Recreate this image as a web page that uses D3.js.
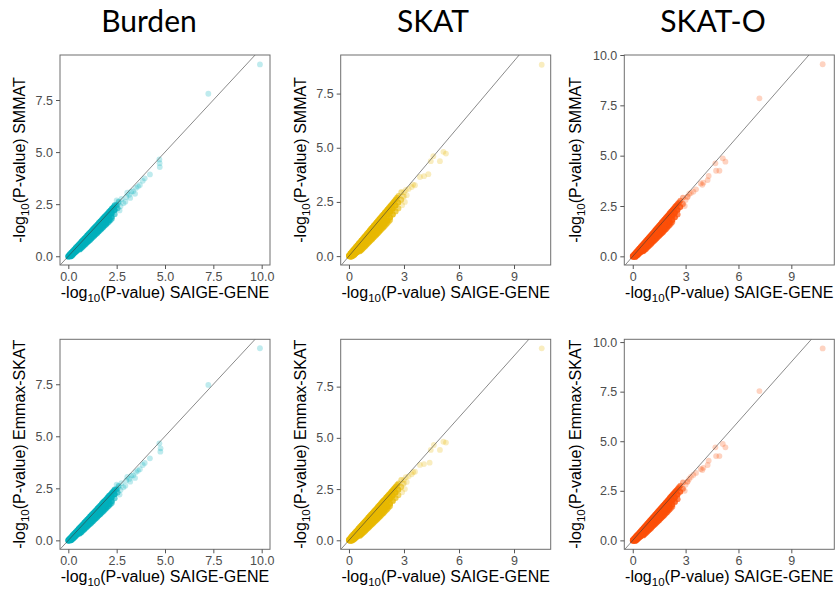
<!DOCTYPE html>
<html>
<head>
<meta charset="utf-8">
<script src="https://cdn.jsdelivr.net/npm/d3@7"></script>
<style>
  html, body { margin: 0; padding: 0; background: #fff; }
  svg { display: block; }
</style>
</head>
<body>
<svg id="chart" width="836" height="590"></svg>
<script>
// Gene-based association tests: SAIGE-GENE -log10(P) against SMMAT and Emmax-SKAT
const tests = ["Burden", "SKAT", "SKAT-O"];
const methods = ["SMMAT", "Emmax-SKAT"];
const testColors = ["#00AFBB", "#E7B800", "#FC4E07"];

// axis ticks per test column
const xTicks = [[0, 2.5, 5, 7.5, 10], [0, 3, 6, 9], [0, 3, 6, 9]];
const xTickLabels = [["0.0", "2.5", "5.0", "7.5", "10.0"], ["0", "3", "6", "9"], ["0", "3", "6", "9"]];
const yTicks = [[0, 2.5, 5, 7.5], [0, 2.5, 5, 7.5], [0, 2.5, 5, 7.5, 10]];
const yTickLabels = [["0.0", "2.5", "5.0", "7.5"], ["0.0", "2.5", "5.0", "7.5"], ["0.0", "2.5", "5.0", "7.5", "10.0"]];

// axis ranges (data range plus padding)
const xDomains = [[-0.43, 10.43], [-0.45, 11.0], [-0.48, 11.44]];
const yDomains = [
  [[-0.42, 9.66], [-0.41, 9.28], [-0.43, 10.0]],
  [[-0.43, 9.66], [-0.44, 9.81], [-0.45, 10.14]]
];

// bulk of genes, binned: [SAIGE-GENE, comparison method, number of genes]
const burdenBand = [
  // upper edge
  [0,0.02,20],[0.075,0.095,14],[0.15,0.17,14],[0.225,0.245,14],[0.3,0.32,14],[0.375,0.395,14],[0.45,0.47,14],[0.525,0.545,14],[0.6,0.62,14],[0.675,0.695,14],[0.75,0.77,14],[0.825,0.845,14],[0.9,0.92,14],[0.975,0.995,14],[1.05,1.07,14],[1.125,1.145,14],[1.2,1.22,14],[1.275,1.295,13],[1.35,1.37,13],[1.425,1.445,12],[1.5,1.52,12],[1.575,1.595,12],[1.65,1.67,12],[1.725,1.75,12],[1.8,1.83,12],[1.875,1.9,11],[1.95,1.97,11],[2.025,2.05,10],[2.1,2.13,10],[2.175,2.2,9],[2.25,2.28,8],[2.325,2.36,6],[2.4,2.45,5],
  // core
  [0,-0.02,40],[0.15,0.08,30],[0.3,0.22,30],[0.45,0.36,30],[0.6,0.5,28],[0.75,0.64,28],[0.9,0.78,26],[1.05,0.93,26],[1.2,1.07,24],[1.35,1.21,24],[1.5,1.35,22],[1.65,1.5,20],[1.8,1.64,20],[1.95,1.78,18],[2.1,1.92,16],[2.25,2.07,12],[2.4,2.22,9],
  [0.075,-0.01,12],[0.15,0.0,12],[0.225,0.065,12],[0.3,0.13,12],[0.375,0.2,12],[0.45,0.27,12],[0.525,0.335,12],[0.6,0.4,12],[0.75,0.54,12],[0.9,0.67,12],[1.05,0.8,12],[1.2,0.94,12],[1.35,1.07,12],[1.5,1.2,11],[1.65,1.34,11],[1.8,1.47,10],[1.95,1.6,9],[2.1,1.74,7],[2.25,1.88,5],[2.4,2.02,3],
  // lower edge
  [0.6,0.33,6],[0.675,0.395,6],[0.75,0.46,6],[0.825,0.525,6],[0.9,0.59,6],[0.975,0.655,6],[1.05,0.72,6],[1.125,0.785,6],[1.2,0.85,6],[1.275,0.92,6],[1.35,0.99,6],[1.425,1.055,6],[1.5,1.12,6],[1.575,1.19,6],[1.65,1.26,6],[1.725,1.325,6],[1.8,1.39,5],[1.875,1.46,5],[1.95,1.53,5],[2.025,1.595,4],[2.1,1.66,4],[2.175,1.73,3],[2.25,1.8,3],
  [2.5,2.45,4],[2.55,2.3,3],[2.6,2.62,2],[2.65,2.2,1],[2.5,2.68,1]
];
const skatBand = [
  [0,0.03,20],[0.075,0.12,14],[0.15,0.2,14],[0.225,0.275,14],[0.3,0.35,14],[0.375,0.425,14],[0.45,0.5,14],[0.525,0.575,14],[0.6,0.65,14],[0.675,0.725,14],[0.75,0.8,14],[0.825,0.875,14],[0.9,0.95,14],[0.975,1.025,14],[1.05,1.1,14],[1.125,1.175,14],[1.2,1.25,14],[1.275,1.325,13],[1.35,1.4,13],[1.425,1.475,12],[1.5,1.55,12],[1.575,1.625,12],[1.65,1.7,12],[1.725,1.78,11],[1.8,1.86,11],[1.875,1.93,10],[1.95,2.0,10],[2.025,2.08,10],[2.1,2.16,10],[2.175,2.23,9],[2.25,2.3,9],[2.325,2.38,8],[2.4,2.46,8],[2.475,2.54,6],[2.55,2.62,5],[2.625,2.7,4],[2.7,2.78,3],[2.85,2.95,2],
  [0,0.0,40],[0.15,0.06,30],[0.3,0.19,30],[0.45,0.33,30],[0.6,0.47,28],[0.75,0.61,28],[0.9,0.76,26],[1.05,0.9,26],[1.2,1.04,24],[1.35,1.18,24],[1.5,1.33,22],[1.65,1.47,20],[1.8,1.61,20],[1.95,1.75,18],[2.1,1.9,16],[2.25,2.04,14],[2.4,2.18,12],[2.55,2.33,9],[2.7,2.47,6],[2.85,2.6,3],
  [0.075,-0.03,12],[0.15,-0.02,12],[0.225,0.02,12],[0.3,0.06,12],[0.375,0.12,12],[0.45,0.18,12],[0.525,0.245,12],[0.6,0.31,12],[0.75,0.44,12],[0.9,0.57,12],[1.05,0.7,12],[1.2,0.83,12],[1.35,0.97,12],[1.5,1.1,12],[1.65,1.24,11],[1.8,1.37,11],[1.95,1.5,10],[2.1,1.64,9],[2.25,1.78,7],[2.4,1.92,6],[2.55,2.06,4],[2.7,2.2,3],
  [0.6,0.22,6],[0.675,0.28,6],[0.75,0.34,6],[0.825,0.405,6],[0.9,0.47,6],[0.975,0.535,6],[1.05,0.6,6],[1.125,0.665,6],[1.2,0.73,6],[1.275,0.795,6],[1.35,0.86,6],[1.425,0.925,6],[1.5,0.99,6],[1.575,1.055,6],[1.65,1.12,6],[1.725,1.19,6],[1.8,1.26,5],[1.875,1.325,5],[1.95,1.39,5],[2.025,1.46,4],[2.1,1.53,4],[2.175,1.6,3],[2.25,1.67,3],
  [2.95,2.75,1],[3.0,2.95,1],[3.05,2.5,1],[2.9,2.35,1]
];
const skatoBand = [
  [0,0.02,20],[0.075,0.095,14],[0.15,0.17,14],[0.225,0.245,14],[0.3,0.32,14],[0.375,0.395,14],[0.45,0.47,14],[0.525,0.545,14],[0.6,0.62,14],[0.675,0.695,14],[0.75,0.77,14],[0.825,0.845,14],[0.9,0.92,14],[0.975,0.995,14],[1.05,1.07,14],[1.125,1.145,14],[1.2,1.22,14],[1.275,1.295,13],[1.35,1.37,13],[1.425,1.445,12],[1.5,1.52,12],[1.575,1.6,12],[1.65,1.68,12],[1.725,1.755,11],[1.8,1.83,11],[1.875,1.905,10],[1.95,1.98,10],[2.025,2.06,10],[2.1,2.14,10],[2.175,2.215,9],[2.25,2.29,9],[2.325,2.37,8],[2.4,2.45,8],[2.475,2.525,6],[2.55,2.6,5],[2.625,2.68,4],[2.7,2.76,3],[2.85,2.92,2],
  [0,-0.02,40],[0.15,0.07,30],[0.3,0.2,30],[0.45,0.34,30],[0.6,0.48,28],[0.75,0.62,28],[0.9,0.76,26],[1.05,0.9,26],[1.2,1.04,24],[1.35,1.18,24],[1.5,1.32,22],[1.65,1.46,20],[1.8,1.6,20],[1.95,1.74,18],[2.1,1.88,16],[2.25,2.02,14],[2.4,2.16,12],[2.55,2.31,9],[2.7,2.45,6],[2.85,2.6,3],
  [0.075,-0.02,12],[0.15,-0.03,12],[0.225,0.025,12],[0.3,0.08,12],[0.375,0.14,12],[0.45,0.2,12],[0.525,0.265,12],[0.6,0.33,12],[0.75,0.46,12],[0.9,0.59,12],[1.05,0.72,12],[1.2,0.85,12],[1.35,0.98,12],[1.5,1.12,12],[1.65,1.25,11],[1.8,1.38,11],[1.95,1.52,10],[2.1,1.66,9],[2.25,1.8,7],[2.4,1.94,6],[2.55,2.08,4],
  [0.6,0.25,6],[0.675,0.31,6],[0.75,0.37,6],[0.825,0.435,6],[0.9,0.5,6],[0.975,0.565,6],[1.05,0.63,6],[1.125,0.695,6],[1.2,0.76,6],[1.275,0.825,6],[1.35,0.89,6],[1.425,0.955,6],[1.5,1.02,6],[1.575,1.085,6],[1.65,1.15,6],[1.725,1.215,6],[1.8,1.28,5],[1.875,1.35,5],[1.95,1.42,5],[2.025,1.49,4],[2.1,1.56,4],[2.175,1.63,3],[2.25,1.7,3],
  [3.0,2.8,1],[3.1,2.95,1],[3.2,3.1,1],[2.95,2.5,1]
];

// individual top genes: [SAIGE-GENE, comparison method]
const burdenSmmat = [[2.6,2.55],[2.7,2.4],[2.75,2.75],[2.85,2.55],[2.95,2.62],[3.0,2.85],[3.05,3.05],[3.15,2.95],[3.2,2.8],[3.25,3.1],[3.35,3.12],[3.45,3.0],[3.5,3.28],[3.6,3.35],[3.7,3.42],[3.85,3.62],[3.95,3.74],[4.22,3.93],[4.71,4.65],[4.72,4.47],[4.73,4.28],[7.24,7.8],[9.91,9.21]];
const burdenEmmax = [[2.6,2.55],[2.7,2.42],[2.75,2.75],[2.85,2.55],[2.95,2.62],[3.0,2.88],[3.05,3.05],[3.15,2.95],[3.2,2.82],[3.25,3.1],[3.35,3.12],[3.45,3.0],[3.5,3.28],[3.6,3.35],[3.7,3.42],[3.85,3.62],[3.95,3.72],[4.22,3.94],[4.71,4.66],[4.77,4.42],[4.76,4.26],[7.24,7.47],[9.91,9.23]];
const skatSmmat = [[3.0,2.75],[3.15,2.81],[3.1,3.05],[3.25,3.1],[3.42,3.19],[3.5,3.3],[3.6,3.27],[3.87,3.65],[4.09,3.69],[4.33,3.78],[4.46,4.38],[4.6,4.61],[4.96,4.38],[5.15,4.81],[5.29,4.73],[10.51,8.83]];
const skatEmmax = [[3.0,2.78],[3.15,2.85],[3.1,3.08],[3.25,3.12],[3.42,3.22],[3.5,3.32],[3.6,3.35],[3.87,3.68],[4.09,3.72],[4.4,3.79],[4.46,4.41],[4.63,4.65],[4.96,4.41],[5.15,4.81],[5.29,4.77],[10.51,9.37]];
const skatoSmmat = [[3.12,2.96],[3.3,3.15],[3.44,3.21],[3.59,3.33],[3.86,3.62],[3.95,3.55],[4.01,3.66],[4.25,3.79],[4.31,3.99],[4.69,4.62],[4.73,4.25],[4.92,4.25],[5.11,4.87],[5.26,4.7],[7.19,7.85],[10.78,9.54]];
const skatoEmmax = [[3.12,2.98],[3.3,3.2],[3.44,3.3],[3.59,3.4],[3.86,3.6],[3.95,3.55],[4.01,3.66],[4.25,3.8],[4.31,4.02],[4.69,4.69],[4.73,4.25],[4.92,4.25],[5.11,4.86],[5.26,4.69],[7.19,7.53],[10.78,9.68]];

const bands = [burdenBand, skatBand, skatoBand];
const topGenes = [[burdenSmmat, skatSmmat, skatoSmmat], [burdenEmmax, skatEmmax, skatoEmmax]];

// layout
const panelLeft = [60, 340.7, 624.3];
const panelTop = [55, 339.3];
const panelSize = 210;
const yTitleGap = [35, 35, 43];
const titleX = [149, 433, 713];
const geneAlpha = 0.25;
const pointR = 2.9;
const font = "'Liberation Sans', Arial, sans-serif";

const svg = d3.select("#chart");

// column headings
svg.selectAll("text.heading").data(tests).join("text")
  .attr("class", "heading")
  .attr("x", (d, i) => titleX[i]).attr("y", 32)
  .attr("text-anchor", "middle")
  .attr("font-family", "Lato, 'Open Sans', sans-serif")
  .attr("font-size", 30)
  .attr("fill", "#000")
  .text(d => d);

function addLogLabel(sel, suffix) {
  sel.append("tspan").text("-log");
  sel.append("tspan").attr("dy", 4).attr("font-size", "0.72em").text("10");
  sel.append("tspan").attr("dy", -4).text("(P-value) " + suffix);
}

methods.forEach((method, r) => {
  tests.forEach((test, c) => {
    const left = panelLeft[c], top = panelTop[r];
    const x = d3.scaleLinear().domain(xDomains[c]).range([left, left + panelSize]);
    const y = d3.scaleLinear().domain(yDomains[r][c]).range([top + panelSize, top]);
    const g = svg.append("g");
    const clipId = `clip-${r}-${c}`;
    g.append("clipPath").attr("id", clipId)
      .append("rect").attr("x", left).attr("y", top).attr("width", panelSize).attr("height", panelSize);

    const plot = g.append("g").attr("clip-path", `url(#${clipId})`);

    // binned bulk of genes: opacity of n stacked points, least dense drawn first
    const bandSorted = bands[c].slice().sort((a, b) => a[2] - b[2]);
    plot.selectAll("circle.band").data(bandSorted).join("circle")
      .attr("class", "band")
      .attr("cx", d => x(d[0])).attr("cy", d => y(d[1])).attr("r", pointR)
      .attr("fill", testColors[c])
      .attr("fill-opacity", d => 1 - Math.pow(1 - geneAlpha, d[2]));

    plot.selectAll("circle.gene").data(topGenes[r][c]).join("circle")
      .attr("class", "gene")
      .attr("cx", d => x(d[0])).attr("cy", d => y(d[1])).attr("r", pointR)
      .attr("fill", testColors[c])
      .attr("fill-opacity", geneAlpha);

    // identity line
    const lo = Math.min(xDomains[c][0], yDomains[r][c][0]);
    const hi = Math.max(xDomains[c][1], yDomains[r][c][1]);
    plot.append("line")
      .attr("x1", x(lo)).attr("y1", y(lo)).attr("x2", x(hi)).attr("y2", y(hi))
      .attr("stroke", "#3a3a3a").attr("stroke-width", 0.6);

    // panel border
    g.append("rect")
      .attr("x", left).attr("y", top).attr("width", panelSize).attr("height", panelSize)
      .attr("fill", "none").attr("stroke", "#6e6e6e").attr("stroke-width", 1);

    // axes
    const xAxis = d3.axisBottom(x).tickValues(xTicks[c])
      .tickFormat((d, i) => xTickLabels[c][i]).tickSize(4).tickPadding(3);
    const yAxis = d3.axisLeft(y).tickValues(yTicks[c])
      .tickFormat((d, i) => yTickLabels[c][i]).tickSize(4).tickPadding(3);

    const gx = g.append("g").attr("transform", `translate(0,${top + panelSize})`).call(xAxis);
    const gy = g.append("g").attr("transform", `translate(${left},0)`).call(yAxis);
    [gx, gy].forEach(a => {
      a.select(".domain").remove();
      a.selectAll(".tick line").attr("stroke", "#555");
      a.selectAll(".tick text").attr("fill", "#4d4d4d")
        .attr("font-family", font).attr("font-size", 12.5);
    });

    // axis titles
    const xt = g.append("text")
      .attr("x", left + panelSize / 2).attr("y", top + panelSize + 33)
      .attr("text-anchor", "middle")
      .attr("font-family", font).attr("font-size", 16).attr("fill", "#000");
    addLogLabel(xt, "SAIGE-GENE");

    const yt = g.append("text")
      .attr("transform", `translate(${left - yTitleGap[c]},${top + panelSize / 2}) rotate(-90)`)
      .attr("text-anchor", "middle")
      .attr("font-family", font).attr("font-size", 16).attr("fill", "#000");
    addLogLabel(yt, method);
  });
});
</script>
</body>
</html>
